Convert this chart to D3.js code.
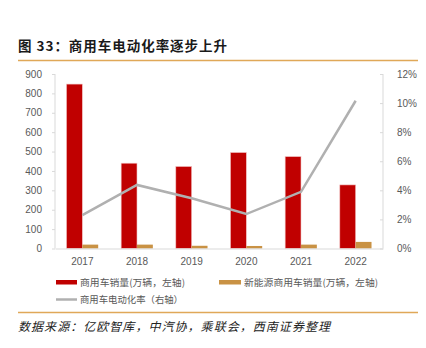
<!DOCTYPE html>
<html><head><meta charset="utf-8">
<script src="https://cdn.jsdelivr.net/npm/d3@7"></script>
<style>body{margin:0;background:#fff}svg{display:block}</style>
</head><body>
<svg id="c" width="426" height="348"></svg>
<script>
const years = ["2017","2018","2019","2020","2021","2022"];
const sales = [848, 440, 423, 495, 474, 328];
const nevSales = [20, 20, 14, 13, 20, 34];
const eRate = [2.3, 4.37, 3.45, 2.37, 3.9, 10.16];
const leftTicks = [0,100,200,300,400,500,600,700,800,900];
const rightTicks = [0,2,4,6,8,10,12];

const svg = d3.select("#c");
const m = {l:55, r:383, t:74, b:248.5};
const font = "'Liberation Sans', Arial, sans-serif";
const cjk = "'Noto Sans CJK SC', sans-serif";

// title
svg.append("text").attr("x",18).attr("y",51).attr("font-family",cjk).attr("font-weight","bold")
  .attr("font-size",13.5).attr("textLength",209).attr("lengthAdjust","spacing").attr("fill","#1a1a1a").text("图 33：商用车电动化率逐步上升");
svg.append("line").attr("x1",18).attr("x2",418).attr("y1",60.5).attr("y2",60.5).attr("stroke","#E0A858").attr("stroke-width",1.5);
svg.append("line").attr("x1",18).attr("x2",418).attr("y1",312.5).attr("y2",312.5).attr("stroke","#E0A858").attr("stroke-width",1.5);
svg.append("text").attr("x",18).attr("y",331).attr("font-family",cjk).attr("font-style","italic")
  .attr("font-size",12).attr("textLength",312).attr("lengthAdjust","spacing").attr("fill","#222")
  .text("数据来源：亿欧智库，中汽协，乘联会，西南证券整理");

const x = d3.scaleBand().domain(years).range([m.l, m.r]);
const yL = d3.scaleLinear().domain([0,900]).range([m.b, m.t]);
const yR = d3.scaleLinear().domain([0,12]).range([m.b, m.t]);

const axisColor = "#D9D9D9";
const gl = svg.append("g").attr("transform",`translate(${m.l},0)`)
  .call(d3.axisLeft(yL).tickValues(leftTicks).tickSize(3).tickPadding(10));
const gr = svg.append("g").attr("transform",`translate(${m.r},0)`)
  .call(d3.axisRight(yR).tickValues(rightTicks).tickSize(0).tickPadding(14).tickFormat(d=>d+"%"));
gr.selectAll(".tick").append("line").attr("x1",-3).attr("x2",0).attr("stroke",axisColor);
const gx = svg.append("g").attr("transform",`translate(0,${m.b})`)
  .call(d3.axisBottom(x).tickSize(0).tickPadding(9));
[gl,gr,gx].forEach(g=>{
  g.select(".domain").attr("stroke",axisColor);
  g.selectAll(".tick line").attr("stroke",axisColor);
  g.selectAll("text").attr("font-family",font).attr("font-size",10).attr("fill","#595959");
});
gl.select(".domain").attr("d",`M0,${m.t}V${m.b}`);
gr.select(".domain").attr("d",`M0,${m.t}V${m.b}`);

const bw = x.bandwidth()*0.29;
svg.append("g").selectAll("rect").data(years).join("rect")
  .attr("x",d=>x(d)+x.bandwidth()/2-bw).attr("width",bw)
  .attr("y",(d,i)=>yL(sales[i])).attr("height",(d,i)=>m.b-yL(sales[i]))
  .attr("fill","#C00000").attr("stroke","#F2C4C4").attr("stroke-width",0.6);
svg.append("g").selectAll("rect").data(years).join("rect")
  .attr("x",d=>x(d)+x.bandwidth()/2).attr("width",bw)
  .attr("y",(d,i)=>yL(nevSales[i])).attr("height",(d,i)=>m.b-yL(nevSales[i]))
  .attr("fill","#C99244");
gx.raise();

const line = d3.line().x((d,i)=>x(years[i])+x.bandwidth()/2).y(d=>yR(d));
svg.append("path").datum(eRate).attr("d",line).attr("fill","none")
  .attr("stroke","#B0B0B0").attr("stroke-width",2.5);

// legend
const lg = svg.append("g").attr("font-family",cjk).attr("font-size",9.5).attr("fill","#595959");
lg.append("rect").attr("x",56).attr("y",280).attr("width",21).attr("height",4.5).attr("fill","#C00000");
lg.append("text").attr("x",80).attr("y",286).attr("textLength",105).attr("lengthAdjust","spacingAndGlyphs").text("商用车销量(万辆，左轴)");
lg.append("rect").attr("x",219).attr("y",280).attr("width",22).attr("height",4.5).attr("fill","#C99244");
lg.append("text").attr("x",244).attr("y",286).attr("textLength",134).attr("lengthAdjust","spacingAndGlyphs").text("新能源商用车销量(万辆，左轴)");
lg.append("line").attr("x1",56).attr("x2",77).attr("y1",299.5).attr("y2",299.5).attr("stroke","#B0B0B0").attr("stroke-width",2.5);
lg.append("text").attr("x",80).attr("y",303).attr("textLength",103).attr("lengthAdjust","spacingAndGlyphs").text("商用车电动化率（右轴）");
</script>
</body></html>
